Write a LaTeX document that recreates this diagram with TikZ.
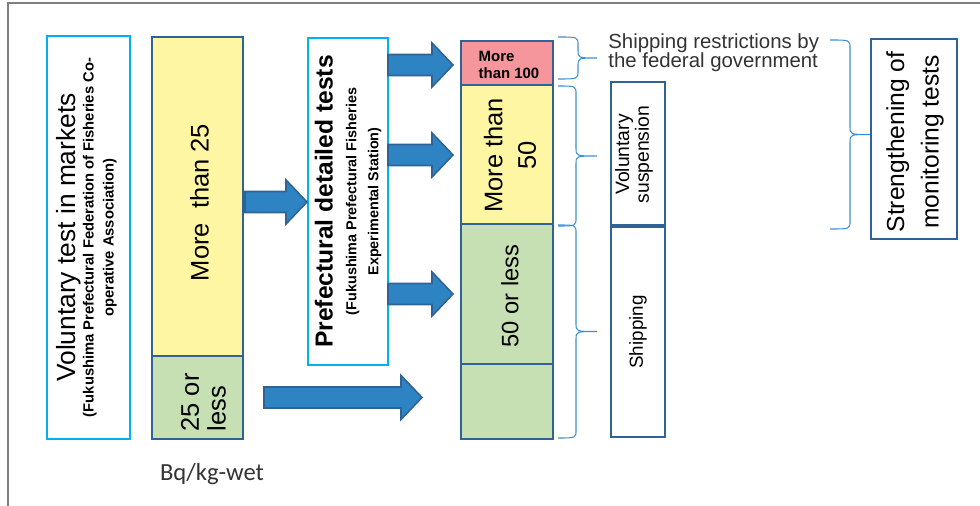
\documentclass[tikz,border=0pt]{standalone}
\usepackage{fontspec}
\setmainfont{Liberation Sans}
\newfontfamily\calibrifont{Carlito}
\usetikzlibrary{calc, positioning}

\definecolor{cyanline}{HTML}{00B0F0}
\definecolor{darkline}{HTML}{2F6395}
\definecolor{paleyellow}{HTML}{FFF6A3}
\definecolor{palegreen}{HTML}{C6E0B4}
\definecolor{palered}{HTML}{F4969B}
\definecolor{arrblue}{HTML}{2E83C3}
\definecolor{bracecol}{HTML}{3E8FD0}
\definecolor{framegray}{HTML}{7F7F7F}
\definecolor{textgray}{HTML}{333333}

% block arrow between two named coordinates
\newcommand{\blockarr}[2]{%
  \draw[blockarrow] ($(#1)+(0,-10.5)$) -- ($(#2)+(-21,-10.5)$) -- ($(#2)+(-21,-22)$)
    -- (#2) -- ($(#2)+(-21,22)$) -- ($(#2)+(-21,10.5)$) -- ($(#1)+(0,10.5)$) -- cycle;}
% right curly brace: end x, spine x, tip x, top y, bottom y
\newcommand{\rbrc}[5]{%
  \draw[bracket] (#1,#4) .. controls (#2,#4) .. (#2,#4+8)
    -- (#2,{(#4+#5)/2-8}) .. controls (#2,{(#4+#5)/2}) .. (#3,{(#4+#5)/2})
    .. controls (#2,{(#4+#5)/2}) .. (#2,{(#4+#5)/2+8})
    -- (#2,#5-8) .. controls (#2,#5) .. (#1,#5);}

\begin{document}
\begin{tikzpicture}[
    x=0.02cm, y=-0.02cm,
    box/.style={draw, inner sep=0pt, outer sep=0pt},
    cbox/.style={box, draw=cyanline, line width=1.1pt},
    bbox/.style={box, draw=darkline, line width=1.4pt},
    vlabel/.style={rotate=90, align=center, inner sep=0pt},
    blockarrow/.style={fill=arrblue, draw=darkline, line width=0.9pt, line join=miter},
    bracket/.style={draw=bracecol, line width=0.6pt}
  ]
  \useasboundingbox (0,0) rectangle (980,506);
  \draw[framegray, line width=0.8pt] (8,506) -- (8,3) -- (980,3);

  % market test
  \node[cbox, minimum width=1.66cm, minimum height=8.06cm] (vtbox) at (88.5,237.5) {};
  \node[vlabel, font=\fontsize{8.4}{11.4}\selectfont\bfseries] (vtlabel) at ($(vtbox.center)+(-2,0)$)
    {{\fontsize{15}{18}\selectfont\mdseries Voluntary test in markets}\\[-1pt]
     (Fukushima Prefectural Federation of Fisheries Co-\\operative Association)};

  \node[bbox, fill=paleyellow, minimum width=1.82cm, minimum height=6.38cm] (c1hi) at (197.5,196.5) {};
  \node[bbox, fill=palegreen, minimum width=1.82cm, minimum height=1.66cm, below=0pt of c1hi] (c1lo) {};
  \node[vlabel, font=\fontsize{14.5}{17}\selectfont] (c1hilabel) at ($(c1hi.center)+(2,6)$) {More\ \ than 25};
  \node[vlabel, align=left, font=\fontsize{14.5}{15.3}\selectfont] (c1lolabel) at ($(c1lo.center)+(6,5)$) {25 or\\less};

  % prefectural tests
  \node[cbox, minimum width=1.6cm, minimum height=6.54cm] (pref) at (348,201.5) {};
  \node[vlabel, font=\fontsize{8.2}{12.5}\selectfont\bfseries] (preflabel) at (pref.center)
    {{\fontsize{14}{16}\selectfont Prefectural detailed tests}\\[1pt]
     (Fukushima Prefectural Fisheries\\Experimental Station)};

  % result column
  \node[bbox, fill=palered, minimum width=1.84cm, minimum height=0.88cm] (c2a) at (507,63) {};
  \node[bbox, fill=paleyellow, minimum width=1.84cm, minimum height=2.78cm, below=0pt of c2a] (c2b) {};
  \node[bbox, fill=palegreen, minimum width=1.84cm, minimum height=2.8cm, below=0pt of c2b] (c2c) {};
  \node[bbox, fill=palegreen, minimum width=1.84cm, minimum height=1.5cm, below=0pt of c2c] (c2d) {};
  \node[align=left, inner sep=0pt, font=\fontsize{8.5}{9.8}\selectfont\bfseries] (c2alabel) at ($(c2a.center)+(2,2)$) {More\\than 100};
  \node[vlabel, font=\fontsize{14.5}{19}\selectfont] (c2blabel) at ($(c2b.center)+(3,1)$) {More than\\50};
  \node[vlabel, font=\fontsize{13.5}{16}\selectfont] (c2clabel) at ($(c2c.center)+(3,2)$) {50 or less};

  % outcomes
  \node[bbox, minimum width=1.08cm, minimum height=2.86cm] (vsus) at (638,153.5) {};
  \node[bbox, minimum width=1.08cm, minimum height=4.2cm, below=0.04cm of vsus] (ship) {};
  \node[vlabel, font=\fontsize{11}{9.8}\selectfont] (vsuslabel) at ($(vsus.center)+(-4,1)$) {Voluntary\\suspension};
  \node[vlabel, font=\fontsize{10.7}{12}\selectfont] (shiplabel) at (ship.center) {Shipping};

  \node[anchor=west, align=left, inner sep=0pt, text=textgray, font=\fontsize{11.6}{11}\selectfont] (fedtext) at (608,52.5)
    {Shipping restrictions by\\the federal government};

  \node[bbox, minimum width=1.72cm, minimum height=4cm] (stren) at (914,139) {};
  \node[vlabel, font=\fontsize{14}{19.5}\selectfont] (strenlabel) at ($(stren.center)+(1,3)$) {Strengthening of\\monitoring tests};

  \node[text=textgray, font=\calibrifont\fontsize{14}{16}\selectfont] (unit) at (212,474) {Bq/kg-wet};

  % arrows
  \coordinate (a1s) at ($(c1hi.east)+(2,5.5)$);
  \coordinate (a1e) at ($(a1s -| pref.west)+(-1,0)$);
  \coordinate (a2s) at (pref.east |- 0,65);
  \coordinate (a2e) at ($(a2s -| c2a.west)+(-8,0)$);
  \coordinate (a3s) at (pref.east |- 0,155);
  \coordinate (a3e) at ($(a3s -| c2b.west)+(-8,0)$);
  \coordinate (a4s) at (pref.east |- 0,294);
  \coordinate (a4e) at ($(a4s -| c2c.west)+(-8,0)$);
  \coordinate (a5s) at ($(c1lo.east)+(21,0)$);
  \coordinate (a5e) at ($(a5s -| c2d.west)+(-39,0)$);
  \blockarr{a1s}{a1e}
  \blockarr{a2s}{a2e}
  \blockarr{a3s}{a3e}
  \blockarr{a4s}{a4e}
  \blockarr{a5s}{a5e}

  % braces
  \rbrc{558}{578}{597}{37}{79}
  \rbrc{558}{576}{597}{86}{226}
  \rbrc{558}{576}{597}{225}{438}
  \rbrc{830}{850}{870}{40}{229}
\end{tikzpicture}
\end{document}
